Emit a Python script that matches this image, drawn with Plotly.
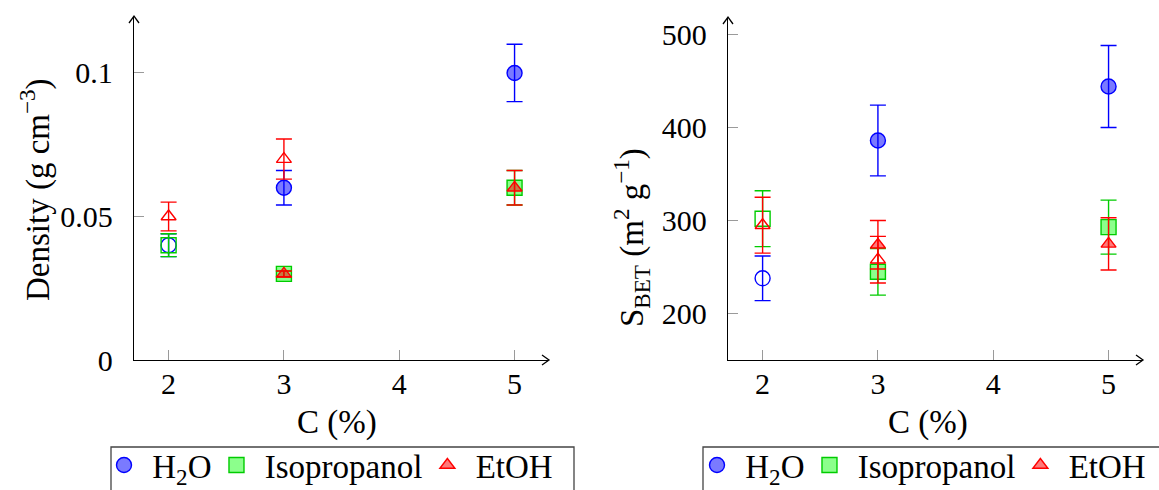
import plotly.graph_objects as go

W, H = 1159, 490

# ---------------- data ----------------
series_names = [" H<sub>2</sub>O", " Isopropanol", " EtOH"]

# Density (g cm^-3) -- filled markers
dens_h2o_x = [3, 5];  dens_h2o_y = [0.06, 0.10];  dens_h2o_e = [0.006, 0.010]
dens_iso_x = [3, 5];  dens_iso_y = [0.03, 0.06];  dens_iso_e = [0.001, 0.006]
dens_eth_x = [3, 5];  dens_eth_y = [0.03, 0.06];  dens_eth_e = [0.001, 0.006]
# Density -- open markers
dens_h2o_ox = [2];    dens_h2o_oy = [0.04];       dens_h2o_oe = [0.004]
dens_iso_ox = [2];    dens_iso_oy = [0.04];       dens_iso_oe = [0.004]
dens_eth_ox = [2, 3]; dens_eth_oy = [0.05, 0.07]; dens_eth_oe = [0.005, 0.007]

# S_BET (m^2 g^-1) -- filled markers
sbet_h2o_x = [3, 5];  sbet_h2o_y = [386, 444];  sbet_h2o_e = [38, 44]
sbet_iso_x = [3, 5];  sbet_iso_y = [245, 293];  sbet_iso_e = [25, 29]
sbet_eth_x = [3, 5];  sbet_eth_y = [274, 275];  sbet_eth_e = [26, 28]
# S_BET -- open markers
sbet_h2o_ox = [2];    sbet_h2o_oy = [238];      sbet_h2o_oe = [24]
sbet_iso_ox = [2];    sbet_iso_oy = [302];      sbet_iso_oe = [30]
sbet_eth_ox = [2, 3]; sbet_eth_oy = [295, 258]; sbet_eth_oe = [30, 25]

x_ticks = [2, 3, 4, 5]
dens_ticks = [0, 0.05, 0.1]
dens_ticktext = ["0", "0.05", "0.1"]
sbet_ticks = [200, 300, 400, 500]

# ---------------- styles ----------------
FONT = "Liberation Serif"
FS = 30     # tick labels
TFS = 33    # axis titles
LFS = 33    # legend
styles = [
    dict(symbol="circle", size=15, fill="rgba(0,0,255,0.52)", line="#0000ff"),
    dict(symbol="square", size=15, fill="rgba(0,255,0,0.45)", line="#00cc00"),
    dict(symbol="triangle-up", size=13, fill="rgba(255,0,0,0.52)", line="#ff0000"),
]

fig = go.Figure()

def add_series(xs, ys, es, oxs, oys, oes, st, name, xa, ya, legend):
    err = lambda e: dict(type="data", array=e, visible=True, color=st["line"],
                         thickness=1.4, width=8)
    fig.add_trace(go.Scatter(
        x=oxs, y=oys, error_y=err(oes), mode="markers", showlegend=False,
        marker=dict(symbol=st["symbol"] + "-open", size=st["size"],
                    color=st["line"], line=dict(width=1.4, color=st["line"])),
        xaxis=xa, yaxis=ya, legend=legend))
    fig.add_trace(go.Scatter(
        x=xs, y=ys, error_y=err(es), mode="markers", name=name,
        marker=dict(symbol=st["symbol"], size=st["size"], color=st["fill"],
                    line=dict(width=1.4, color=st["line"])),
        xaxis=xa, yaxis=ya, legend=legend))

dens = [
    (dens_h2o_x, dens_h2o_y, dens_h2o_e, dens_h2o_ox, dens_h2o_oy, dens_h2o_oe),
    (dens_iso_x, dens_iso_y, dens_iso_e, dens_iso_ox, dens_iso_oy, dens_iso_oe),
    (dens_eth_x, dens_eth_y, dens_eth_e, dens_eth_ox, dens_eth_oy, dens_eth_oe),
]
sbet = [
    (sbet_h2o_x, sbet_h2o_y, sbet_h2o_e, sbet_h2o_ox, sbet_h2o_oy, sbet_h2o_oe),
    (sbet_iso_x, sbet_iso_y, sbet_iso_e, sbet_iso_ox, sbet_iso_oy, sbet_iso_oe),
    (sbet_eth_x, sbet_eth_y, sbet_eth_e, sbet_eth_ox, sbet_eth_oy, sbet_eth_oe),
]
for d, st, nm in zip(dens, styles, series_names):
    add_series(*d, st, nm, "x", "y", "legend")
for d, st, nm in zip(sbet, styles, series_names):
    add_series(*d, st, nm, "x2", "y2", "legend2")

# ---------------- layout ----------------
L1, R1 = 134, 548
L2, R2 = 728, 1142
TOP, BOT = 17, 360
px = lambda p: p / W
py = lambda p: 1 - p / H

axis_common = dict(showline=True, linecolor="black", linewidth=1.3, mirror=False,
                   ticks="inside", ticklen=10, tickwidth=1.3, tickcolor="#9a9a9a",
                   showgrid=False, zeroline=False,
                   tickfont=dict(family=FONT, size=FS, color="black"))

legend_common = dict(y=py(437), xanchor="left", yanchor="top",
                     orientation="h", borderwidth=0,
                     bgcolor="rgba(0,0,0,0)", itemwidth=30,
                     font=dict(family=FONT, size=LFS, color="black"))

fig.update_layout(
    width=W, height=H,
    margin=dict(l=0, r=0, t=0, b=0, autoexpand=False),
    paper_bgcolor="white", plot_bgcolor="white",
    xaxis=dict(domain=[px(L1), px(R1)], range=[1.70, 5.29], tickvals=x_ticks,
               anchor="y", ticklabelstandoff=-3, **axis_common),
    yaxis=dict(domain=[py(BOT), py(TOP)], range=[0, 0.1195], tickvals=dens_ticks,
               ticktext=dens_ticktext, anchor="x", ticklabelstandoff=14, **axis_common),
    xaxis2=dict(domain=[px(L2), px(R2)], range=[1.70, 5.29], tickvals=x_ticks,
                anchor="y2", ticklabelstandoff=-3, **axis_common),
    yaxis2=dict(domain=[py(BOT), py(18)], range=[150.3, 517.5], tickvals=sbet_ticks,
                anchor="x2", ticklabelstandoff=14, **axis_common),
    legend=dict(x=px(104), **legend_common),
    legend2=dict(x=px(697), **legend_common),
)

# legend frames (open at the bottom edge, as in the reference)
for x0, x1 in [(111, 574), (703, 1170)]:
    fig.add_shape(type="rect", x0=px(x0), x1=px(x1), y0=py(500), y1=py(447),
                  xref="paper", yref="paper", line=dict(color="#444", width=1.3),
                  layer="below")

ann_font = dict(family=FONT, size=TFS, color="black")
def ann(text, xp, yp, angle=0):
    fig.add_annotation(text=text, x=px(xp), y=py(yp), xref="paper", yref="paper",
                       xanchor="center", yanchor="middle", showarrow=False,
                       textangle=angle, font=ann_font)

ann("C (%)", 337, 422)
ann("C (%)", 928, 422)
ann("Density (g cm<sup>−3</sup>)", 35, 190, -90)
ann("S<sub>BET</sub> (m<sup>2</sup> g<sup>−1</sup>)", 631, 238, -90)

# axis arrow heads (chevrons)
def chevron_up(xp, yp):
    return f"M {px(xp-5)},{py(yp+7)} L {px(xp)},{py(yp)} L {px(xp+5)},{py(yp+7)}"

def chevron_right(xp, yp):
    return f"M {px(xp-7)},{py(yp-5)} L {px(xp)},{py(yp)} L {px(xp-7)},{py(yp+5)}"

for path in [chevron_up(L1, TOP - 1), chevron_right(R1 + 1, BOT),
             chevron_up(L2, 17), chevron_right(R2 + 1, BOT)]:
    fig.add_shape(type="path", path=path, xref="paper", yref="paper",
                  line=dict(color="black", width=1.3))

fig.write_html("out.html", config={"displayModeBar": False},
               post_script="document.body.style.margin='0px';")
